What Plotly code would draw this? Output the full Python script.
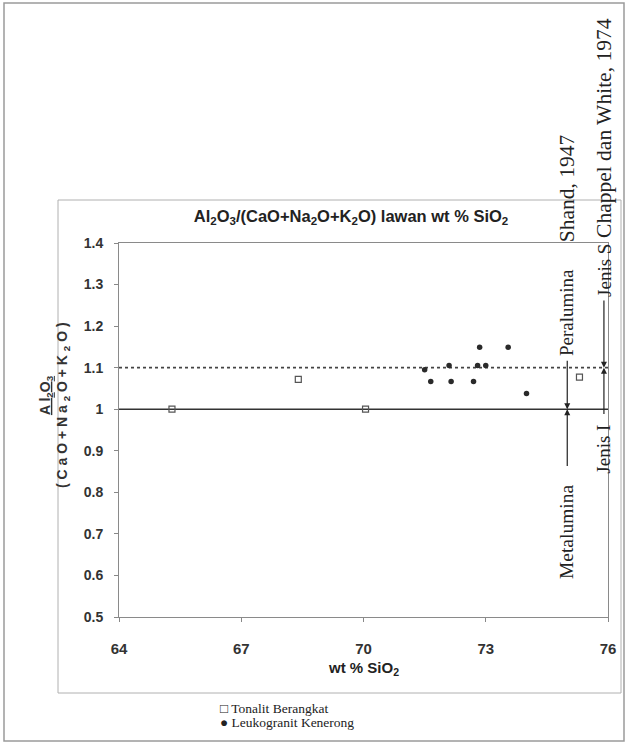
import plotly.graph_objects as go

# ---------------- data ----------------
tonalit_x = [65.3, 68.4, 70.05, 75.3]
tonalit_y = [1.0, 1.072, 1.0, 1.077]

leuko_x = [71.5, 71.65, 72.1, 72.15, 72.7, 72.8, 72.85, 73.0, 73.55, 74.0]
leuko_y = [1.095, 1.067, 1.105, 1.067, 1.067, 1.105, 1.149, 1.105, 1.149, 1.038]

ref_x = [64, 76]
metal_line = [1.0, 1.0]
peral_line = [1.1, 1.1]

x_ticks = [64, 67, 70, 73, 76]
y_ticks = [0.5, 0.6, 0.7, 0.8, 0.9, 1.0, 1.1, 1.2, 1.3, 1.4]
y_tick_text = ["0.5", "0.6", "0.7", "0.8", "0.9", "1", "1.1", "1.2", "1.3", "1.4"]

series_names = ["Tonalit Berangkat", "Leukogranit Kenerong"]

# ---------------- figure ----------------
W, H = 628, 744
L, R, T, B = 119, 20, 243, 127
pw, ph = W - L - R, H - T - B

def px_x(px):
    return (px - L) / pw

def px_y(py):
    return (H - B - py) / ph

fig = go.Figure()

fig.add_trace(go.Scatter(x=ref_x, y=metal_line, mode="lines",
                         line=dict(color="#333333", width=1.6),
                         showlegend=False, hoverinfo="skip"))
fig.add_trace(go.Scatter(x=ref_x, y=peral_line, mode="lines",
                         line=dict(color="#444444", width=1.6, dash="dot"),
                         showlegend=False, hoverinfo="skip"))

fig.add_trace(go.Scatter(x=tonalit_x, y=tonalit_y, mode="markers",
                         name=series_names[0], showlegend=False,
                         marker=dict(symbol="square-open", size=6,
                                     color="#555555", line=dict(width=1.2))))
fig.add_trace(go.Scatter(x=leuko_x, y=leuko_y, mode="markers",
                         name=series_names[1], showlegend=False,
                         marker=dict(symbol="circle", size=5.5, color="#2a2a2a")))

serif = "Liberation Serif, Times New Roman, serif"
sans = "Liberation Sans, Arial, sans-serif"

annotations = []

def rot_text(text, x, y, size=19, yref="y"):
    annotations.append(dict(text=text, x=x, y=y, xref="x", yref=yref,
                            textangle=-90, showarrow=False,
                            font=dict(family=serif, size=size, color="#222222"),
                            xanchor="center", yanchor="middle"))

# right-side classification labels
rot_text("Shand, 1947", 75.0, px_y(188), size=21.5, yref="paper")
rot_text("Peralumina", 75.0, 1.232)
rot_text("Metalumina", 75.0, 0.705, size=19.5)
rot_text("Jenis S", 75.9, 1.335)
rot_text("Chappel dan White, 1974", 75.9, px_y(128), size=21.5, yref="paper")
rot_text("Jenis I", 75.9, 0.905)

def arrow(x, y_from, y_to):
    annotations.append(dict(x=x, y=y_to, ax=x, ay=y_from, xref="x", yref="y",
                            axref="x", ayref="y", text="", showarrow=True,
                            arrowhead=2, arrowsize=1, arrowwidth=1.2,
                            arrowcolor="#222222"))

arrow(75.0, 1.12, 1.0)
arrow(75.0, 0.86, 1.0)
arrow(75.9, 1.265, 1.1)
arrow(75.9, 0.985, 1.1)

# y-axis fraction label
annotations.append(dict(text="<u>A l<sub>2</sub>O<sub>3</sub></u>",
                        x=px_x(46), y=1.034, xref="paper", yref="y",
                        textangle=-90, showarrow=False,
                        font=dict(family=sans, size=14, color="#333333", weight="bold"),
                        xanchor="center", yanchor="middle"))
annotations.append(dict(text="( C a O + N a <sub>2</sub> O + K <sub>2</sub> O )",
                        x=px_x(63), y=1.01, xref="paper", yref="y",
                        textangle=-90, showarrow=False,
                        font=dict(family=sans, size=14, color="#333333", weight="bold"),
                        xanchor="center", yanchor="middle"))

# x-axis title
annotations.append(dict(text="wt % SiO<sub>2</sub>", x=0.5, y=px_y(668),
                        xref="paper", yref="paper", showarrow=False,
                        font=dict(family=sans, size=15, color="#222222", weight="bold"),
                        xanchor="center", yanchor="middle"))

# legend (text symbols as in the scanned original)
legend_rows = [("\u25a1 " + series_names[0], 708), ("\u25cf " + series_names[1], 722)]
for txt, py in legend_rows:
    annotations.append(dict(text=txt, x=px_x(218), y=px_y(py), xref="paper", yref="paper",
                            showarrow=False, xanchor="left", yanchor="middle",
                            font=dict(family=serif, size=13.5, color="#222222")))

shapes = [
    # chart box on the page
    dict(type="rect", xref="paper", yref="paper",
         x0=px_x(58), x1=px_x(621), y0=px_y(693), y1=px_y(200),
         line=dict(color="#b0b0b0", width=1)),
    # page border
    dict(type="rect", xref="paper", yref="paper",
         x0=px_x(4), x1=px_x(624), y0=px_y(741), y1=px_y(3),
         line=dict(color="#9a9a9a", width=1.5)),
]

fig.update_layout(
    width=W, height=H,
    margin=dict(l=L, r=R, t=T, b=B, autoexpand=False),
    paper_bgcolor="white", plot_bgcolor="white",
    showlegend=False,
    title=dict(text="Al<sub>2</sub>O<sub>3</sub>/(CaO+Na<sub>2</sub>O+K<sub>2</sub>O) lawan wt % SiO<sub>2</sub>",
               x=px_x(351), xref="paper", xanchor="center",
               y=1 - 216 / H, yref="container", yanchor="middle",
               font=dict(family=sans, size=16.5, color="#222222", weight="bold")),
    xaxis=dict(range=[64, 76], tickvals=x_ticks, ticks="outside", ticklen=4,
               tickcolor="#888888", showgrid=False, zeroline=False,
               showline=True, linecolor="#8a8a8a", linewidth=1, mirror=True,
               ticklabelstandoff=14,
               tickfont=dict(family=sans, size=15, color="#333333", weight="bold")),
    yaxis=dict(range=[0.5, 1.4], tickvals=y_ticks, ticktext=y_tick_text,
               ticks="outside", ticklen=4, tickcolor="#888888",
               showgrid=False, zeroline=False,
               showline=True, linecolor="#8a8a8a", linewidth=1, mirror=True,
               ticklabelstandoff=8,
               tickfont=dict(family=sans, size=14, color="#333333", weight="bold")),
    annotations=annotations,
    shapes=shapes,
)

fig.write_html("out.html")
